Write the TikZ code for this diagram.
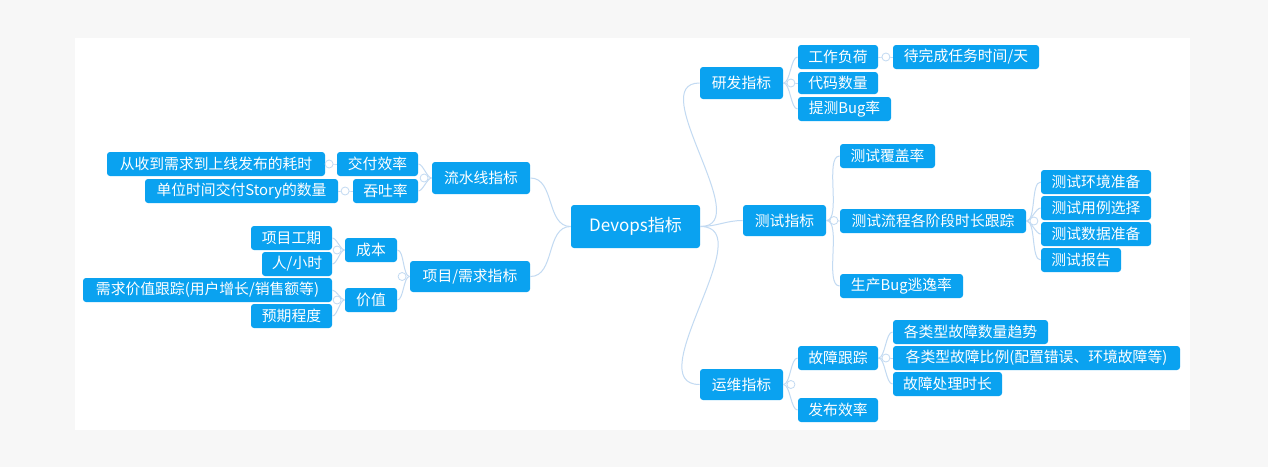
\documentclass[tikz,border=0pt]{standalone}
\usepackage{fontspec}
\newfontfamily\cjk{Noto Sans CJK SC}
\begin{document}
\begin{tikzpicture}[x=0.5pt,y=-0.5pt,
  box/.style={fill=boxblue,text=white,rounded corners=1.5pt,inner sep=0pt,font=\cjk\fontsize{7.4}{9}\selectfont},
  conn/.style={draw=connc,line width=0.5pt},
  knob/.style={draw=connc,line width=0.4pt,fill=white}]
\definecolor{boxblue}{HTML}{0AA2F0}
\definecolor{connc}{HTML}{C2DAF2}
\definecolor{pagebg}{HTML}{F7F7F7}
\fill[pagebg] (0,0) rectangle (1268,467);
\fill[white] (75,38) rectangle (1190,430);
\useasboundingbox (0,0) rectangle (1268,467);
\newcommand\bx[6]{\node[box,minimum width=#4*0.5pt,minimum height=#5*0.5pt] (#1) at (#2,#3) {#6};}
\bx{dev}{635.5}{226.5}{129}{43}{\fontsize{8.5}{10}\selectfont Devops指标}
\bx{yf}{741.5}{83}{83}{32}{研发指标}
\bx{gz}{838}{57}{80}{24}{工作负荷}
\bx{dw}{966}{57}{146}{24}{待完成任务时间/天}
\bx{dm}{838}{83}{80}{22}{代码数量}
\bx{tc}{844.5}{109}{93}{24}{提测Bug率}
\bx{cs}{784.5}{220.5}{83}{31}{测试指标}
\bx{fg}{887.5}{156}{95}{24}{测试覆盖率}
\bx{lc}{933}{221}{186}{24}{测试流程各阶段时长跟踪}
\bx{hj}{1096}{182}{110}{24}{测试环境准备}
\bx{yl}{1096}{208}{110}{24}{测试用例选择}
\bx{sj}{1096}{234}{110}{24}{测试数据准备}
\bx{bg}{1081}{260}{80}{24}{测试报告}
\bx{sc}{901.5}{286}{123}{24}{生产Bug逃逸率}
\bx{yw}{741.5}{384.5}{83}{31}{运维指标}
\bx{gzgz}{838}{358}{80}{24}{故障跟踪}
\bx{qs}{970.5}{332}{155}{24}{各类型故障数量趋势}
\bx{bl}{1036.5}{358}{287}{24}{各类型故障比例(配置错误、环境故障等)}
\bx{cl}{947.5}{384}{109}{24}{故障处理时长}
\bx{fb}{838}{410}{80}{24}{发布效率}
\bx{lsx}{481}{178}{98}{32}{流水线指标}
\bx{jf}{377.5}{164}{81}{24}{交付效率}
\bx{sc1}{216}{164}{218}{24}{从收到需求到上线发布的耗时}
\bx{tt}{385.5}{191}{65}{24}{吞吐率}
\bx{dw2}{241.5}{191}{193}{24}{单位时间交付Story的数量}
\bx{xm}{470}{276.5}{120}{31}{项目/需求指标}
\bx{cb}{371}{250}{52}{24}{成本}
\bx{jz}{371}{300}{52}{24}{价值}
\bx{gq}{291.5}{238}{81}{24}{项目工期}
\bx{rx}{297}{264}{70}{24}{人/小时}
\bx{xq}{207.5}{290}{249}{24}{需求价值跟踪(用户增长/销售额等)}
\bx{yq}{291.5}{316}{81}{24}{预期程度}
% root branches
\begin{scope}[on background layer/.style={}]
\draw[conn] (dev.east) to[out=0,in=180] (yf.west);
\draw[conn] (dev.east) to[out=0,in=180] (cs.west);
\draw[conn] (dev.east) to[out=0,in=180] (yw.west);
\draw[conn] (dev.west) to[out=180,in=0] (lsx.east);
\draw[conn] (dev.west) to[out=180,in=0] (xm.east);
\end{scope}
% right children
\foreach \p/\c in {yf/gz,yf/dm,yf/tc,gz/dw,cs/fg,cs/lc,cs/sc,lc/hj,lc/yl,lc/sj,lc/bg,yw/gzgz,yw/fb,gzgz/qs,gzgz/bl,gzgz/cl}{
  \draw[conn] (\p.east) to[out=0,in=180,looseness=0.6] (\c.west);
}
\foreach \p in {yf,gz,cs,lc,yw,gzgz}{
  \draw[knob] ([xshift=7.5*0.5pt]\p.east) circle (2pt);
}
% left children
\foreach \p/\c in {lsx/jf,lsx/tt,jf/sc1,tt/dw2,xm/cb,xm/jz,cb/gq,cb/rx,jz/xq,jz/yq}{
  \draw[conn] (\p.west) to[out=180,in=0,looseness=0.6] (\c.east);
}
\foreach \p in {lsx,jf,tt,xm,cb,jz}{
  \draw[knob] ([xshift=-7.5*0.5pt]\p.west) circle (2pt);
}
\end{tikzpicture}
\end{document}
